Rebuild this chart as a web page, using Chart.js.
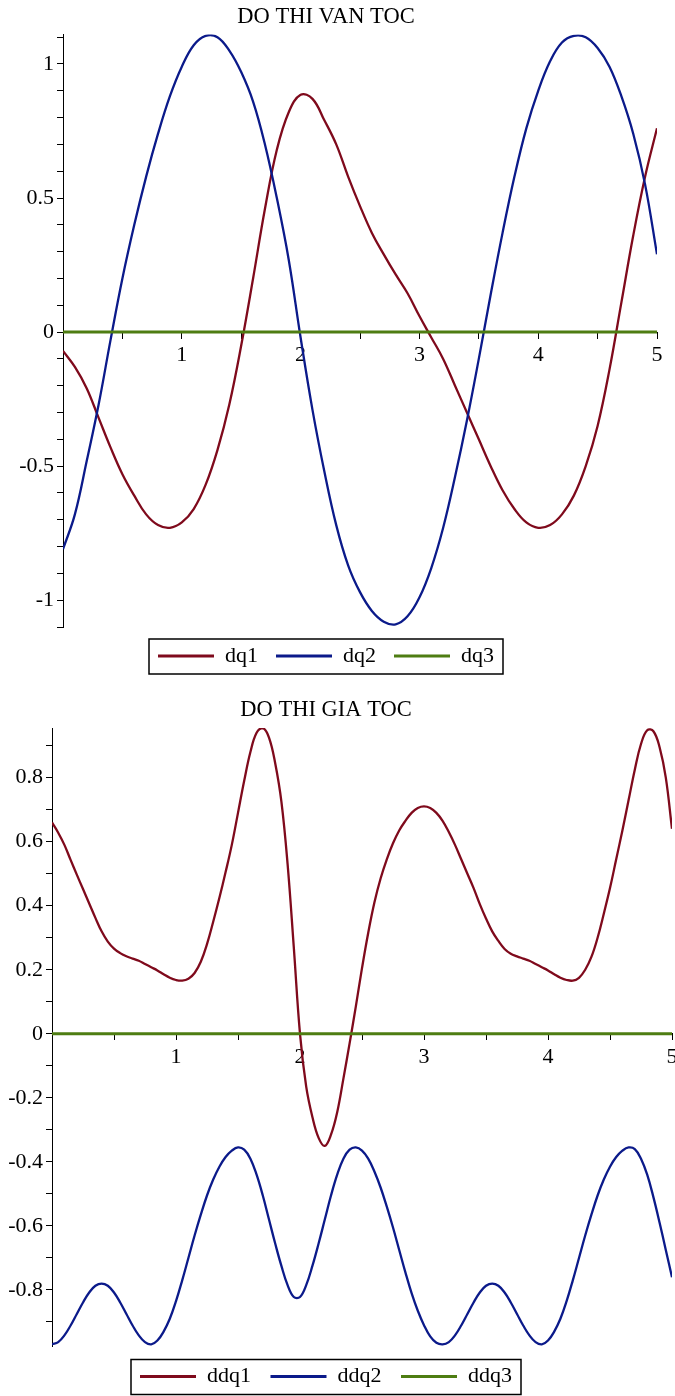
<!DOCTYPE html>
<html>
<head>
<meta charset="utf-8">
<title>DO THI VAN TOC / GIA TOC</title>
<script src="https://cdn.jsdelivr.net/npm/chart.js@4.4.1/dist/chart.umd.min.js"></script>
<style>
  html, body { margin: 0; padding: 0; background: #fff; }
  canvas { display: block; }
</style>
</head>
<body>
<canvas id="velocityChart" width="675" height="680"></canvas>
<canvas id="accelChart" width="675" height="716"></canvas>
<script>
// time samples
const tVel = [
  0, 0.1, 0.2, 0.3, 0.4, 0.5, 0.6, 0.7, 0.8, 0.9,
  1, 1.1, 1.2, 1.3, 1.4, 1.5, 1.6, 1.7, 1.8, 1.9,
  2, 2.1, 2.2, 2.3, 2.4, 2.5, 2.6, 2.7, 2.8, 2.9,
  3, 3.1, 3.2, 3.3, 3.4, 3.5, 3.6, 3.7, 3.8, 3.9,
  4, 4.1, 4.2, 4.3, 4.4, 4.5, 4.6, 4.7, 4.8, 4.9, 5
];
const dq1 = [
  -0.07, -0.13, -0.21, -0.32, -0.43, -0.53, -0.61, -0.68, -0.72, -0.73,
  -0.71, -0.66, -0.57, -0.44, -0.27, -0.05, 0.20, 0.46, 0.68, 0.82,
  0.885, 0.87, 0.79, 0.70, 0.58, 0.47, 0.37, 0.29, 0.215, 0.145,
  0.06, -0.02, -0.10, -0.20, -0.30, -0.40, -0.50, -0.59, -0.66, -0.71,
  -0.73, -0.72, -0.68, -0.61, -0.50, -0.35, -0.14, 0.11, 0.36, 0.58, 0.76
];
const dq2 = [
  -0.81, -0.68, -0.48, -0.27, -0.03, 0.20, 0.40, 0.58, 0.74, 0.88,
  0.99, 1.07, 1.105, 1.10, 1.05, 0.97, 0.86, 0.70, 0.50, 0.27,
  -0.02, -0.29, -0.52, -0.72, -0.87, -0.97, -1.04, -1.08, -1.09, -1.06,
  -0.99, -0.88, -0.73, -0.54, -0.33, -0.10, 0.14, 0.37, 0.58, 0.76,
  0.90, 1.01, 1.08, 1.105, 1.10, 1.06, 0.99, 0.88, 0.74, 0.55, 0.29
];
const dq3 = [
  0, 0, 0, 0, 0, 0, 0, 0, 0, 0,
  0, 0, 0, 0, 0, 0, 0, 0, 0, 0,
  0, 0, 0, 0, 0, 0, 0, 0, 0, 0,
  0, 0, 0, 0, 0, 0, 0, 0, 0, 0,
  0, 0, 0, 0, 0, 0, 0, 0, 0, 0, 0
];

const tAcc = [
  0, 0.05, 0.1, 0.15, 0.2, 0.25, 0.3, 0.35, 0.4, 0.45,
  0.5, 0.55, 0.6, 0.65, 0.7, 0.75, 0.8, 0.85, 0.9, 0.95,
  1, 1.05, 1.1, 1.15, 1.2, 1.25, 1.3, 1.35, 1.4, 1.45,
  1.5, 1.55, 1.6, 1.65, 1.7, 1.75, 1.8, 1.85, 1.9, 1.95,
  2, 2.05, 2.1, 2.15, 2.2, 2.25, 2.3, 2.35, 2.4, 2.45,
  2.5, 2.55, 2.6, 2.65, 2.7, 2.75, 2.8, 2.85, 2.9, 2.95,
  3, 3.05, 3.1, 3.15, 3.2, 3.25, 3.3, 3.35, 3.4, 3.45,
  3.5, 3.55, 3.6, 3.65, 3.7, 3.75, 3.8, 3.85, 3.9, 3.95,
  4, 4.05, 4.1, 4.15, 4.2, 4.25, 4.3, 4.35, 4.4, 4.45,
  4.5, 4.55, 4.6, 4.65, 4.7, 4.75, 4.8, 4.85, 4.9, 4.95, 5
];
const ddq1 = [
  0.66, 0.628, 0.59, 0.543, 0.497, 0.452, 0.407, 0.362, 0.32, 0.288,
  0.266, 0.252, 0.242, 0.235, 0.228, 0.218, 0.208, 0.198, 0.186, 0.175,
  0.168, 0.166, 0.172, 0.19, 0.225, 0.28, 0.35, 0.425, 0.505, 0.59,
  0.69, 0.79, 0.88, 0.94, 0.955, 0.925, 0.845, 0.725, 0.53, 0.27,
  0.00, -0.165, -0.26, -0.325, -0.35, -0.315, -0.245, -0.14, -0.03, 0.085,
  0.205, 0.315, 0.41, 0.485, 0.545, 0.595, 0.635, 0.665, 0.69, 0.705,
  0.71, 0.705, 0.69, 0.665, 0.63, 0.59, 0.545, 0.50, 0.455, 0.405,
  0.36, 0.32, 0.29, 0.265, 0.25, 0.242, 0.235, 0.228, 0.218, 0.208,
  0.198, 0.186, 0.175, 0.168, 0.166, 0.175, 0.20, 0.24, 0.30, 0.375,
  0.455, 0.545, 0.635, 0.73, 0.825, 0.905, 0.948, 0.945, 0.895, 0.80, 0.64
];
const ddq2 = [
  -0.97, -0.963, -0.942, -0.911, -0.875, -0.839, -0.808, -0.787, -0.78, -0.787,
  -0.808, -0.839, -0.875, -0.911, -0.942, -0.963, -0.97, -0.958, -0.93, -0.89,
  -0.835, -0.77, -0.70, -0.63, -0.565, -0.505, -0.455, -0.415, -0.385, -0.365,
  -0.355, -0.362, -0.39, -0.44, -0.505, -0.58, -0.655, -0.725, -0.785, -0.822,
  -0.822, -0.785, -0.725, -0.655, -0.58, -0.505, -0.44, -0.39, -0.362, -0.355,
  -0.365, -0.39, -0.43, -0.48, -0.54, -0.605, -0.675, -0.745, -0.81, -0.865,
  -0.91, -0.945, -0.965, -0.97, -0.963, -0.942, -0.911, -0.875, -0.839, -0.808,
  -0.787, -0.78, -0.787, -0.808, -0.839, -0.875, -0.911, -0.942, -0.963, -0.97,
  -0.958, -0.93, -0.89, -0.835, -0.77, -0.70, -0.63, -0.565, -0.505, -0.455,
  -0.415, -0.385, -0.365, -0.355, -0.36, -0.39, -0.44, -0.51, -0.59, -0.675, -0.76
];
const ddq3 = [
  0, 0, 0, 0, 0, 0, 0, 0, 0, 0,
  0, 0, 0, 0, 0, 0, 0, 0, 0, 0,
  0, 0, 0, 0, 0, 0, 0, 0, 0, 0,
  0, 0, 0, 0, 0, 0, 0, 0, 0, 0,
  0, 0, 0, 0, 0, 0, 0, 0, 0, 0,
  0, 0, 0, 0, 0, 0, 0, 0, 0, 0,
  0, 0, 0, 0, 0, 0, 0, 0, 0, 0,
  0, 0, 0, 0, 0, 0, 0, 0, 0, 0,
  0, 0, 0, 0, 0, 0, 0, 0, 0, 0,
  0, 0, 0, 0, 0, 0, 0, 0, 0, 0, 0
];

// ticks (every mark) and the ones that get a label
const xTicks = [0, 0.5, 1, 1.5, 2, 2.5, 3, 3.5, 4, 4.5, 5];
const xLabels = [1, 2, 3, 4, 5];
const velYTicks = [-1.1, -1, -0.9, -0.8, -0.7, -0.6, -0.5, -0.4, -0.3, -0.2, -0.1, 0,
                   0.1, 0.2, 0.3, 0.4, 0.5, 0.6, 0.7, 0.8, 0.9, 1, 1.1];
const velYLabels = [-1, -0.5, 0, 0.5, 1];
const accYTicks = [-0.9, -0.8, -0.7, -0.6, -0.5, -0.4, -0.3, -0.2, -0.1, 0,
                   0.1, 0.2, 0.3, 0.4, 0.5, 0.6, 0.7, 0.8, 0.9];
const accYLabels = [-0.8, -0.6, -0.4, -0.2, 0, 0.2, 0.4, 0.6, 0.8];

const RED = "#7f0a1c", BLUE = "#0b1a8a", GREEN = "#4e7d12";

Chart.defaults.font.family = "'Liberation Serif', 'Times New Roman', serif";
Chart.defaults.color = "#000";

const pts = (xs, ys) => xs.map((x, i) => ({ x, y: ys[i] }));
const hasLabel = (list, v) => list.some(l => Math.abs(l - v) < 1e-6);
const fmt = v => String(Math.round(v * 10) / 10);
const setTicks = list => scale => { scale.ticks = list.map(value => ({ value })); };

// thin black frame round the legend row
const legendFrame = {
  id: "legendFrame",
  afterDraw(chart) {
    const boxes = chart.legend && chart.legend.legendHitBoxes;
    if (!boxes || !boxes.length) return;
    const left = Math.min(...boxes.map(b => b.left)) - 9;
    const right = Math.max(...boxes.map(b => b.left + b.width)) + 9;
    const mid = boxes[0].top + boxes[0].height / 2;
    const ctx = chart.ctx;
    ctx.save();
    ctx.strokeStyle = "#000";
    ctx.lineWidth = 1.5;
    ctx.strokeRect(left, mid - 17, right - left, 35);
    ctx.restore();
  }
};

function buildChart(id, cfg) {
  return new Chart(document.getElementById(id), {
    type: "line",
    data: {
      datasets: cfg.series.map((s, i) => ({
        label: s.label,
        data: pts(cfg.t, s.values),
        borderColor: s.color,
        backgroundColor: s.color,
        borderWidth: s.width,
        pointRadius: 0,
        fill: false,
        tension: 0.4,
        order: cfg.series.length - 1 - i
      }))
    },
    options: {
      responsive: false,
      animation: false,
      devicePixelRatio: 1,
      layout: { padding: cfg.padding },
      plugins: {
        title: {
          display: true, text: cfg.title, color: "#000",
          font: { size: 22.5, weight: "normal" },
          padding: cfg.titlePad
        },
        legend: {
          position: "bottom",
          labels: {
            boxWidth: 56, boxHeight: 3, padding: cfg.legendPad, color: "#000",
            font: { size: 22 },
            sort: (a, b) => a.datasetIndex - b.datasetIndex,
            generateLabels: chart => Chart.defaults.plugins.legend.labels.generateLabels(chart)
              .map(item => Object.assign(item, { lineWidth: 0 }))
          }
        },
        tooltip: { enabled: false }
      },
      scales: {
        x: {
          type: "linear", min: 0, max: 5, bounds: "data",
          position: { y: 0 },
          border: { display: true, color: "#000", width: 1 },
          grid: { drawOnChartArea: false, tickLength: 6, color: "#000" },
          ticks: {
            autoSkip: false, maxRotation: 0, padding: 4, color: "#000", font: { size: 22 },
            callback: v => hasLabel(xLabels, v) ? fmt(v) : ""
          },
          afterBuildTicks: setTicks(xTicks),
          afterFit: s => { s.paddingLeft = 0; s.paddingRight = 0; }
        },
        y: {
          type: "linear", min: cfg.yMin, max: cfg.yMax, bounds: "data",
          border: { display: true, color: "#000", width: 1 },
          grid: { drawOnChartArea: false, tickLength: 6, color: "#000" },
          ticks: {
            autoSkip: false, padding: 3, color: "#000", font: { size: 22 },
            callback: v => hasLabel(cfg.yLabels, v) ? fmt(v) : ""
          },
          afterBuildTicks: setTicks(cfg.yTicks),
          afterFit: s => { s.width = cfg.yWidth; s.paddingTop = 0; s.paddingBottom = 0; }
        }
      }
    },
    plugins: [legendFrame]
  });
}

buildChart("velocityChart", {
  title: "DO THI VAN TOC",
  titlePad: { top: 3.5, bottom: 4 },
  padding: { left: -5, right: 18, top: 0, bottom: 3 },
  legendPad: 18,
  yWidth: 68,
  t: tVel,
  yMin: -1.1, yMax: 1.11,
  yTicks: velYTicks, yLabels: velYLabels,
  series: [
    { label: "dq1", values: dq1, color: RED, width: 2.3 },
    { label: "dq2", values: dq2, color: BLUE, width: 2.3 },
    { label: "dq3", values: dq3, color: GREEN, width: 3 }
  ]
});

buildChart("accelChart", {
  title: "DO THI GIA TOC",
  titlePad: { top: 16.5, bottom: 4.5 },
  padding: { left: -20, right: 3, top: 0, bottom: -1.5 },
  legendPad: 19.5,
  yWidth: 72,
  t: tAcc,
  yMin: -0.975, yMax: 0.955,
  yTicks: accYTicks, yLabels: accYLabels,
  series: [
    { label: "ddq1", values: ddq1, color: RED, width: 2.3 },
    { label: "ddq2", values: ddq2, color: BLUE, width: 2.3 },
    { label: "ddq3", values: ddq3, color: GREEN, width: 3 }
  ]
});
</script>
</body>
</html>
